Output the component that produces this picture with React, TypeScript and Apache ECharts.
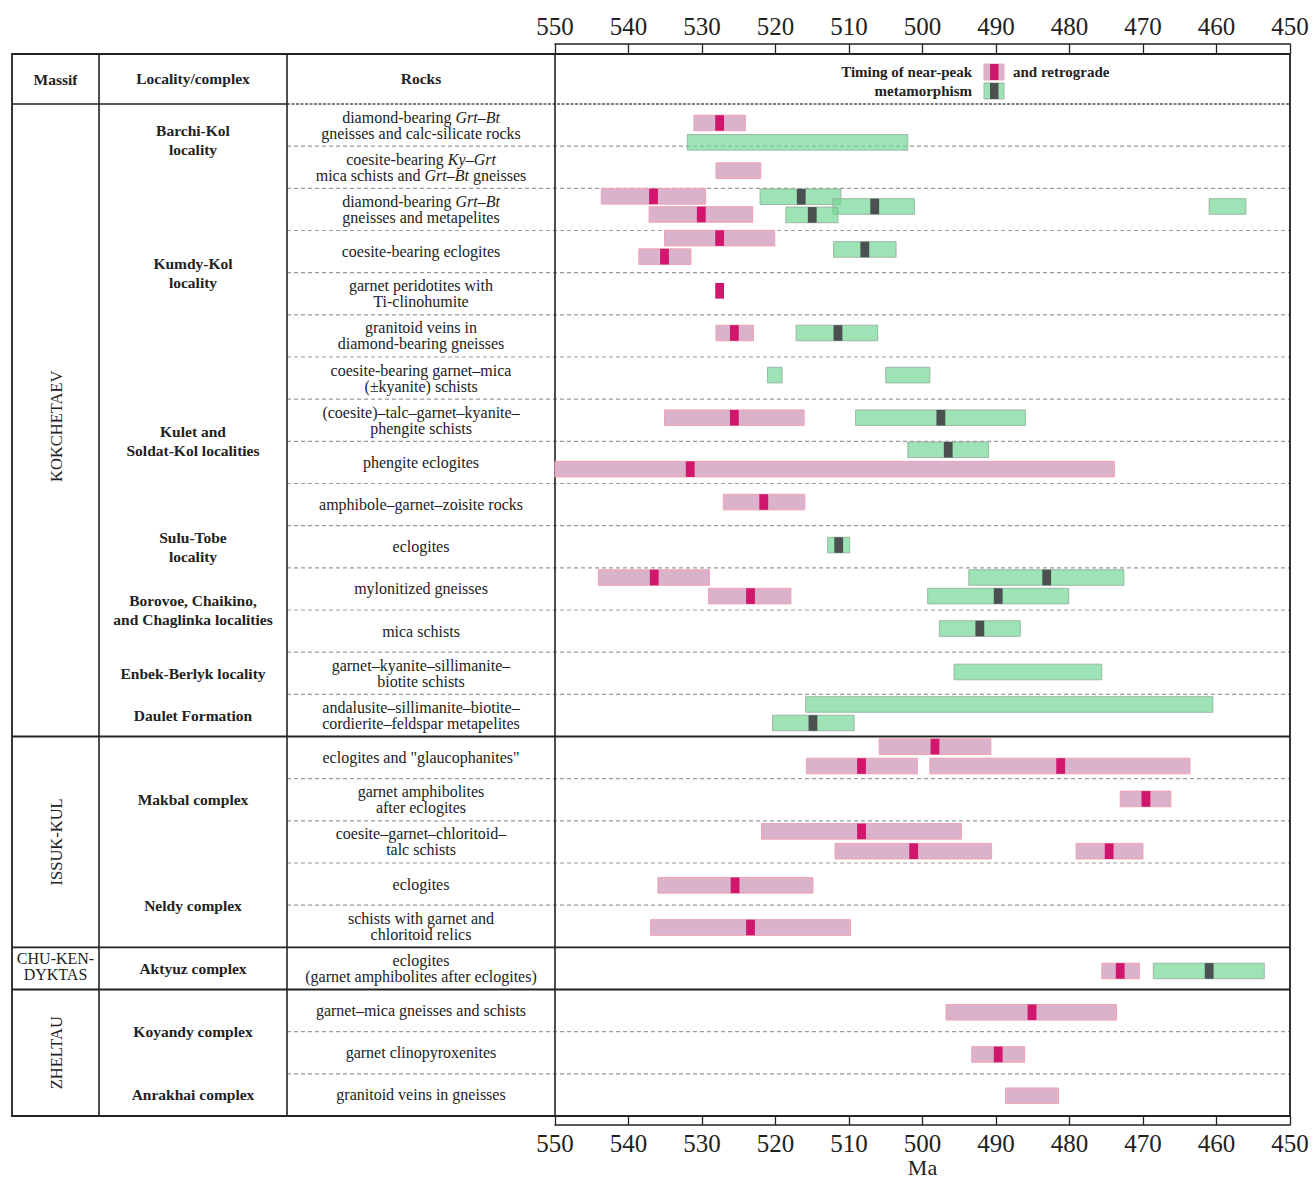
import React, { useEffect, useRef } from 'react';
import * as echarts from 'echarts';

// ---------- data ----------
const AGE_MIN = 450;
const AGE_MAX = 550;
const AGE_STEP = 10;

const MASSIFS: [string, number, number][] = [
  ['KOKCHETAEV', 0, 15],
  ['ISSUK-KUL', 15, 5],
  ['CHU-KEN-\nDYKTAS', 20, 1],
  ['ZHELTAU', 21, 3],
];

const LOCALITIES: [string, number, number][] = [
  ['Barchi-Kol\nlocality', 0, 2],
  ['Kumdy-Kol\nlocality', 2, 4],
  ['Kulet and\nSoldat-Kol localities', 6, 4],
  ['Sulu-Tobe\nlocality', 10, 1],
  ['Borovoe, Chaikino,\nand Chaglinka localities', 11, 2],
  ['Enbek-Berlyk locality', 13, 1],
  ['Daulet Formation', 14, 1],
  ['Makbal complex', 15, 3],
  ['Neldy complex', 18, 2],
  ['Aktyuz complex', 20, 1],
  ['Koyandy complex', 21, 2],
  ['Anrakhai complex', 23, 1],
];

// {i|...} marks italic mineral abbreviations
const ROCKS: string[] = [
  'diamond-bearing {i|Grt–Bt}\ngneisses and calc-silicate rocks',
  'coesite-bearing {i|Ky–Grt}\nmica schists and {i|Grt–Bt} gneisses',
  'diamond-bearing {i|Grt–Bt}\ngneisses and metapelites',
  'coesite-bearing eclogites',
  'garnet peridotites with\nTi-clinohumite',
  'granitoid veins in\ndiamond-bearing gneisses',
  'coesite-bearing garnet–mica\n(±kyanite) schists',
  '(coesite)–talc–garnet–kyanite–\nphengite schists',
  'phengite eclogites',
  'amphibole–garnet–zoisite rocks',
  'eclogites',
  'mylonitized gneisses',
  'mica schists',
  'garnet–kyanite–sillimanite–\nbiotite schists',
  'andalusite–sillimanite–biotite–\ncordierite–feldspar metapelites',
  'eclogites and "glaucophanites"',
  'garnet amphibolites\nafter eclogites',
  'coesite–garnet–chloritoid–\ntalc schists',
  'eclogites',
  'schists with garnet and\nchloritoid relics',
  'eclogites\n(garnet amphibolites after eclogites)',
  'garnet–mica gneisses and schists',
  'garnet clinopyroxenites',
  'granitoid veins in gneisses',
];

// near-peak metamorphism ranges: [row position, older age (Ma), younger age (Ma)]
const PEAK_RANGES: [number, number, number][] = [
  [0.45, 531.1, 524.1],
  [1.58, 528.1, 522.0],
  [2.19, 543.7, 529.5],
  [2.62, 537.2, 523.1],
  [3.18, 535.1, 520.1],
  [3.62, 538.6, 531.5],
  [5.43, 528.1, 523.0],
  [7.44, 535.1, 516.1],
  [8.66, 550.0, 473.9],
  [9.44, 527.1, 516.0],
  [11.23, 544.1, 529.0],
  [11.67, 529.1, 517.9],
  [15.24, 505.9, 490.7],
  [15.7, 515.8, 500.7],
  [15.7, 499.0, 463.6],
  [16.48, 473.1, 466.2],
  [17.25, 521.9, 494.7],
  [17.72, 511.9, 490.6],
  [17.72, 479.1, 470.0],
  [18.53, 536.0, 514.9],
  [19.53, 537.0, 509.8],
  [20.56, 475.6, 470.5],
  [21.54, 496.8, 473.6],
  [22.54, 493.3, 486.1],
  [23.52, 488.7, 481.5],
];

// near-peak best estimates: [row position, age (Ma)]
const PEAK_AGES: [number, number][] = [
  [0.45, 527.6],
  [2.19, 536.6],
  [2.62, 530.1],
  [3.18, 527.6],
  [3.62, 535.1],
  [4.43, 527.6],
  [5.43, 525.6],
  [7.44, 525.6],
  [8.66, 531.6],
  [9.44, 521.6],
  [11.23, 536.5],
  [11.67, 523.4],
  [15.24, 498.3],
  [15.7, 508.3],
  [15.7, 481.2],
  [16.48, 469.6],
  [17.25, 508.3],
  [17.72, 501.2],
  [17.72, 474.6],
  [18.53, 525.5],
  [19.53, 523.4],
  [20.56, 473.1],
  [21.54, 485.1],
  [22.54, 489.7],
];

// retrograde metamorphism ranges
const RETRO_RANGES: [number, number, number][] = [
  [0.91, 532.0, 502.0],
  [2.2, 522.1, 511.1],
  [2.43, 512.2, 501.1],
  [2.63, 518.6, 511.5],
  [2.43, 461.0, 456.0],
  [3.45, 512.1, 503.6],
  [5.43, 517.2, 506.1],
  [6.43, 521.1, 519.1],
  [6.43, 505.0, 499.0],
  [7.44, 509.1, 486.0],
  [8.2, 502.0, 491.0],
  [10.46, 512.9, 509.9],
  [11.23, 493.7, 472.6],
  [11.67, 499.3, 480.1],
  [12.44, 497.7, 486.7],
  [13.47, 495.7, 475.6],
  [14.24, 515.9, 460.5],
  [14.68, 520.4, 509.3],
  [20.56, 468.6, 453.5],
];

const RETRO_AGES: [number, number][] = [
  [2.2, 516.5],
  [2.43, 506.5],
  [2.63, 515.0],
  [3.45, 507.85],
  [5.43, 511.5],
  [7.44, 497.5],
  [8.2, 496.5],
  [10.46, 511.4],
  [11.23, 483.1],
  [11.67, 489.7],
  [12.44, 492.2],
  [14.68, 514.9],
  [20.56, 461.0],
];

const LEGEND_TEXT = ['Timing of near-peak', 'and retrograde', 'metamorphism'];
const HEADERS = ['Massif', 'Locality/complex', 'Rocks'];
const AXIS_NAME = 'Ma';

// ---------- layout / styles ----------
const W = 1313;
const H = 1178;
const TL = 12, TR = 1290, TT = 54, HB = 104, TB = 1116;
const C1 = 99, C2 = 287, C3 = 555;
const STRIP_TOP = 44, STRIP_BOTTOM = 1125;
const NROWS = ROCKS.length;
const RH = (TB - HB) / NROWS;
const SERIF = '"Liberation Serif", "Times New Roman", serif';
const INK = '#222';
const BAR_H = 0.37; // in rows
const MARK_W = 1.2; // in Ma
const ROCK_FS = 16;
const BOLD_FS = 15.5;

const PINK_FILL = '#dbb2cb';
const PINK_STROKE = '#f2a3b3';
const PINK_MARK = '#d1166d';
const GREEN_FILL = 'rgba(112,214,146,0.68)';
const GREEN_STROKE = 'rgba(150,178,158,0.9)';
const GREEN_MARK = '#4b5051';

function rangeRenderer(fill: string, stroke: string) {
  return (_p: any, api: any) => {
    const y = api.value(0);
    const a = api.coord([api.value(1), y]);
    const b = api.coord([api.value(2), y]);
    const h = api.size([0, BAR_H])[1];
    return {
      type: 'rect',
      shape: { x: Math.min(a[0], b[0]), y: a[1] - h / 2, width: Math.abs(b[0] - a[0]), height: h },
      style: { fill, stroke, lineWidth: 1 },
    };
  };
}

function markRenderer(fill: string) {
  return (_p: any, api: any) => {
    const c = api.coord([api.value(1), api.value(0)]);
    const h = api.size([0, BAR_H])[1];
    const w = api.size([MARK_W, 0])[0];
    return {
      type: 'rect',
      shape: { x: c[0] - w / 2, y: c[1] - h / 2, width: w, height: h },
      style: { fill },
    };
  };
}

function line(x1: number, y1: number, x2: number, y2: number, style: any) {
  return { type: 'line', silent: true, shape: { x1, y1, x2, y2 }, style };
}

function text(x: number, y: number, str: string, extra: any = {}, rotation = 0) {
  return {
    type: 'text',
    silent: true,
    x,
    y,
    rotation,
    style: {
      text: str,
      fill: INK,
      fontFamily: SERIF,
      fontSize: ROCK_FS,
      align: 'center',
      verticalAlign: 'middle',
      ...extra,
    },
  };
}

function buildGraphic() {
  const g: any[] = [];
  const solid = { stroke: INK, lineWidth: 1.6 };
  const dashed = { stroke: '#9a9a9a', lineWidth: 1.1, lineDash: [4, 3] };
  const rowY = (i: number) => HB + i * RH;

  const massifBreaks = new Set(MASSIFS.map((m) => m[1]));
  for (let i = 1; i < NROWS; i++) {
    const y = rowY(i);
    if (massifBreaks.has(i)) g.push(line(TL, y, TR, y, { stroke: INK, lineWidth: 1.8 }));
    else g.push(line(C2, y, TR, y, dashed));
  }
  g.push(line(TL, HB, C2, HB, solid));
  g.push(line(C2, HB, TR, HB, { stroke: '#555', lineWidth: 1.6, lineDash: [3, 1.5] }));
  [C1, C2, C3].forEach((x) => g.push(line(x, TT, x, TB, solid)));
  g.push({
    type: 'rect',
    silent: true,
    shape: { x: TL, y: TT, width: TR - TL, height: TB - TT },
    style: { fill: 'none', stroke: INK, lineWidth: 1.8 },
  });

  const bold = { fontWeight: 'bold', fontSize: BOLD_FS };
  g.push(text((TL + C1) / 2, 79, HEADERS[0], bold));
  g.push(text((C1 + C2) / 2, 78, HEADERS[1], bold));
  g.push(text((C2 + C3) / 2, 78, HEADERS[2], bold));

  MASSIFS.forEach(([name, first, count]) => {
    const cy = rowY(first + count / 2);
    if (name.includes('\n')) {
      g.push(text((TL + C1) / 2, cy - 2, name, { fontSize: 16, lineHeight: 16 }));
    } else {
      g.push(text((TL + C1) / 2 + 1, cy + (first === 0 ? 6 : 0), name, { fontSize: 16.5 }, Math.PI / 2));
    }
  });

  LOCALITIES.forEach(([name, first, count]) => {
    const cy = rowY(first + count / 2) + (first === 0 ? -6 : 0);
    g.push(text((C1 + C2) / 2, cy, name, { fontWeight: 'bold', fontSize: BOLD_FS, lineHeight: 19 }));
  });

  ROCKS.forEach((r, i) => {
    g.push(
      text((C2 + C3) / 2, rowY(i + 0.5), r, {
        lineHeight: 16,
        rich: {
          i: { fontStyle: 'italic', fontFamily: SERIF, fontSize: ROCK_FS, lineHeight: 16, fill: INK },
        },
      })
    );
  });

  const lb = { fontWeight: 'bold', fontSize: 15 };
  g.push(text(972, 72, LEGEND_TEXT[0], { ...lb, align: 'right' }));
  g.push(text(1013, 72, LEGEND_TEXT[1], { ...lb, align: 'left' }));
  g.push(text(972, 91, LEGEND_TEXT[2], { ...lb, align: 'right' }));
  g.push({ type: 'rect', silent: true, shape: { x: 984, y: 64, width: 20, height: 16 }, style: { fill: PINK_FILL, stroke: PINK_STROKE, lineWidth: 1 } });
  g.push({ type: 'rect', silent: true, shape: { x: 990, y: 64, width: 8.5, height: 16 }, style: { fill: PINK_MARK } });
  g.push({ type: 'rect', silent: true, shape: { x: 984, y: 83, width: 20, height: 16 }, style: { fill: GREEN_FILL, stroke: GREEN_STROKE, lineWidth: 1 } });
  g.push({ type: 'rect', silent: true, shape: { x: 990, y: 83, width: 8.5, height: 16 }, style: { fill: GREEN_MARK } });
  return g;
}

export default function App() {
  const ref = useRef<HTMLDivElement>(null);
  useEffect(() => {
    if (!ref.current) return;
    const chart = echarts.init(ref.current, undefined, { renderer: 'svg' });
    const ageAxis = {
      type: 'value',
      min: AGE_MIN,
      max: AGE_MAX,
      interval: AGE_STEP,
      inverse: true,
    };
    const stripAxis = {
      ...ageAxis,
      axisLine: { show: true, onZero: false, lineStyle: { color: INK, width: 1.6 } },
      axisTick: { show: false },
      splitLine: { show: true, lineStyle: { color: INK, width: 1.3, type: 'solid' } },
      axisLabel: { fontFamily: SERIF, fontSize: 25, color: INK },
    };
    const gridBase = { left: C3, right: W - TR, containLabel: false, outerBoundsMode: 'none' };
    chart.setOption({
      animation: false,
      backgroundColor: '#fff',
      grid: [
        { ...gridBase, top: HB, bottom: H - TB },
        { ...gridBase, top: STRIP_TOP, height: TT - STRIP_TOP },
        { ...gridBase, top: TB, height: STRIP_BOTTOM - TB },
      ],
      xAxis: [
        { ...ageAxis, gridIndex: 0, show: false },
        {
          ...stripAxis,
          gridIndex: 1,
          position: 'top',
          axisLabel: { ...stripAxis.axisLabel, margin: 5 },
        },
        {
          ...stripAxis,
          gridIndex: 2,
          position: 'bottom',
          axisLabel: { ...stripAxis.axisLabel, margin: 6 },
          name: AXIS_NAME,
          nameLocation: 'middle',
          nameGap: 31,
          nameMoveOverlap: false,
          nameTextStyle: { fontFamily: SERIF, fontSize: 22, color: INK, lineHeight: 22 },
        },
      ],
      yAxis: [
        { type: 'value', gridIndex: 0, min: 0, max: NROWS, inverse: true, show: false },
        { type: 'value', gridIndex: 1, min: 0, max: 1, show: false },
        { type: 'value', gridIndex: 2, min: 0, max: 1, show: false },
      ],
      graphic: buildGraphic(),
      series: [
        {
          type: 'custom',
          name: 'retrograde',
          xAxisIndex: 0,
          yAxisIndex: 0,
          renderItem: rangeRenderer(GREEN_FILL, GREEN_STROKE),
          encode: { x: [1, 2], y: 0 },
          data: RETRO_RANGES,
          z: 3,
        },
        {
          type: 'custom',
          name: 'retrograde age',
          xAxisIndex: 0,
          yAxisIndex: 0,
          renderItem: markRenderer(GREEN_MARK),
          encode: { x: 1, y: 0 },
          data: RETRO_AGES,
          z: 4,
        },
        {
          type: 'custom',
          name: 'near-peak',
          xAxisIndex: 0,
          yAxisIndex: 0,
          renderItem: rangeRenderer(PINK_FILL, PINK_STROKE),
          encode: { x: [1, 2], y: 0 },
          data: PEAK_RANGES,
          z: 5,
        },
        {
          type: 'custom',
          name: 'near-peak age',
          xAxisIndex: 0,
          yAxisIndex: 0,
          renderItem: markRenderer(PINK_MARK),
          encode: { x: 1, y: 0 },
          data: PEAK_AGES,
          z: 6,
        },
      ],
    });
    return () => chart.dispose();
  }, []);
  return <div ref={ref} style={{ position: 'absolute', left: 0, top: 0, width: W, height: H }} />;
}
